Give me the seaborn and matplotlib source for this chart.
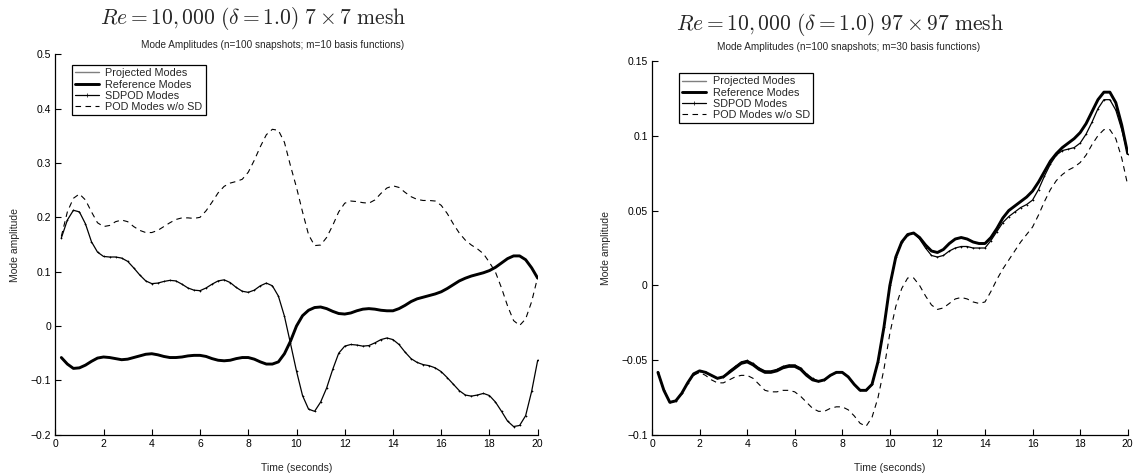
import numpy as np
import pandas as pd
import matplotlib
matplotlib.use("Agg")
import matplotlib.pyplot as plt
import seaborn as sns

# ---------------- data ----------------
time_s = [0.25, 0.5, 0.75, 1.0, 1.25, 1.5, 1.75, 2.0, 2.25, 2.5, 2.75, 3.0, 3.25, 3.5, 3.75, 4.0,
          4.25, 4.5, 4.75, 5.0, 5.25, 5.5, 5.75, 6.0, 6.25, 6.5, 6.75, 7.0, 7.25, 7.5, 7.75, 8.0,
          8.25, 8.5, 8.75, 9.0, 9.25, 9.5, 9.75, 10.0, 10.25, 10.5, 10.75, 11.0, 11.25, 11.5, 11.75, 12.0,
          12.25, 12.5, 12.75, 13.0, 13.25, 13.5, 13.75, 14.0, 14.25, 14.5, 14.75, 15.0, 15.25, 15.5, 15.75, 16.0,
          16.25, 16.5, 16.75, 17.0, 17.25, 17.5, 17.75, 18.0, 18.25, 18.5, 18.75, 19.0, 19.25, 19.5, 19.75, 20.0]

# Reference modes (same reference simulation in both panels)
reference_modes = [-0.058, -0.070, -0.078, -0.077, -0.072, -0.065, -0.059, -0.057, -0.058, -0.060, -0.062, -0.061, -0.058, -0.055, -0.052, -0.051,
                   -0.053, -0.056, -0.058, -0.058, -0.057, -0.055, -0.054, -0.054, -0.056, -0.060, -0.063, -0.064, -0.063, -0.060, -0.058, -0.058,
                   -0.061, -0.066, -0.070, -0.070, -0.066, -0.051, -0.028, 0.000, 0.019, 0.029, 0.034, 0.035, 0.032, 0.027, 0.023, 0.022,
                   0.024, 0.028, 0.031, 0.032, 0.031, 0.029, 0.028, 0.028, 0.032, 0.038, 0.045, 0.050, 0.053, 0.056, 0.059, 0.063,
                   0.069, 0.076, 0.083, 0.088, 0.092, 0.095, 0.098, 0.102, 0.108, 0.116, 0.124, 0.129, 0.129, 0.122, 0.107, 0.088]

# ---- 7x7 mesh (m=10) ----
sdpod_7 = [0.162, 0.195, 0.213, 0.210, 0.188, 0.155, 0.136, 0.128, 0.127, 0.127, 0.125, 0.119, 0.107, 0.094, 0.083, 0.078,
           0.079, 0.082, 0.084, 0.083, 0.077, 0.070, 0.066, 0.065, 0.070, 0.077, 0.083, 0.085, 0.080, 0.071, 0.064, 0.062,
           0.066, 0.074, 0.079, 0.074, 0.055, 0.018, -0.032, -0.083, -0.128, -0.153, -0.157, -0.140, -0.114, -0.080, -0.050, -0.037,
           -0.034, -0.035, -0.037, -0.036, -0.031, -0.025, -0.022, -0.025, -0.034, -0.048, -0.060, -0.067, -0.071, -0.073, -0.077, -0.084,
           -0.095, -0.107, -0.119, -0.127, -0.129, -0.127, -0.124, -0.128, -0.140, -0.157, -0.175, -0.185, -0.183, -0.165, -0.120, -0.063]
projected_7 = list(reference_modes)
pod_nosd_7 = [0.165, 0.210, 0.235, 0.243, 0.232, 0.210, 0.190, 0.183, 0.185, 0.192, 0.195, 0.192, 0.183, 0.176, 0.172, 0.172,
              0.176, 0.183, 0.190, 0.196, 0.199, 0.199, 0.198, 0.200, 0.212, 0.228, 0.245, 0.257, 0.263, 0.266, 0.270, 0.283,
              0.305, 0.330, 0.352, 0.362, 0.360, 0.338, 0.295, 0.255, 0.210, 0.168, 0.148, 0.149, 0.163, 0.185, 0.210, 0.226,
              0.230, 0.229, 0.227, 0.226, 0.232, 0.244, 0.254, 0.258, 0.255, 0.246, 0.238, 0.233, 0.231, 0.231, 0.230, 0.222,
              0.207, 0.188, 0.171, 0.158, 0.149, 0.142, 0.133, 0.117, 0.099, 0.070, 0.037, 0.010, 0.001, 0.013, 0.045, 0.090]

# ---- 97x97 mesh (m=30) ----
sdpod_97 = [-0.058, -0.070, -0.078, -0.077, -0.072, -0.065, -0.059, -0.057, -0.058, -0.060, -0.062, -0.061, -0.057, -0.054, -0.051, -0.050,
            -0.052, -0.055, -0.057, -0.057, -0.056, -0.054, -0.053, -0.053, -0.055, -0.059, -0.062, -0.064, -0.063, -0.060, -0.058, -0.058,
            -0.061, -0.066, -0.070, -0.070, -0.066, -0.051, -0.028, 0.000, 0.019, 0.029, 0.034, 0.035, 0.031, 0.025, 0.020, 0.019,
            0.020, 0.023, 0.025, 0.026, 0.026, 0.025, 0.025, 0.025, 0.030, 0.036, 0.042, 0.046, 0.049, 0.052, 0.054, 0.057,
            0.064, 0.073, 0.081, 0.087, 0.090, 0.091, 0.092, 0.095, 0.101, 0.109, 0.118, 0.124, 0.124, 0.117, 0.104, 0.088]
projected_97 = list(reference_modes)
pod_nosd_97 = [-0.058, -0.070, -0.078, -0.077, -0.072, -0.065, -0.060, -0.058, -0.060, -0.063, -0.065, -0.065, -0.063, -0.061, -0.060, -0.060,
               -0.062, -0.066, -0.070, -0.071, -0.071, -0.070, -0.070, -0.071, -0.074, -0.078, -0.082, -0.084, -0.084, -0.082, -0.081, -0.081,
               -0.083, -0.087, -0.092, -0.094, -0.088, -0.075, -0.056, -0.032, -0.014, -0.002, 0.005, 0.005, 0.000, -0.007, -0.013, -0.016,
               -0.015, -0.012, -0.009, -0.008, -0.009, -0.011, -0.012, -0.011, -0.004, 0.004, 0.011, 0.017, 0.023, 0.029, 0.034, 0.039,
               0.047, 0.056, 0.064, 0.070, 0.074, 0.077, 0.079, 0.082, 0.087, 0.094, 0.100, 0.104, 0.104, 0.098, 0.085, 0.067]

series_labels = ["Projected Modes", "Reference Modes", "SDPOD Modes", "POD Modes w/o SD"]
titles = [r"$Re = 10,000\ (\delta = 1.0)\ 7\times 7\ \mathrm{mesh}$",
          r"$Re = 10,000\ (\delta = 1.0)\ 97\times 97\ \mathrm{mesh}$"]
subtitles = ["Mode Amplitudes (n=100 snapshots; m=10 basis functions)",
             "Mode Amplitudes (n=100 snapshots; m=30 basis functions)"]
x_ticks = [0, 2, 4, 6, 8, 10, 12, 14, 16, 18, 20]
y_ticks_left = [-0.2, -0.1, 0, 0.1, 0.2, 0.3, 0.4, 0.5]
y_ticklabels_left = ["\u22120.2", "\u22120.1", "0", "0.1", "0.2", "0.3", "0.4", "0.5"]
y_ticks_right = [-0.1, -0.05, 0, 0.05, 0.1, 0.15]
y_ticklabels_right = ["\u22120.1", "\u22120.05", "0", "0.05", "0.1", "0.15"]

# ---------------- style ----------------
sns.set_style("ticks")
plt.rcParams["font.family"] = ["Liberation Sans", "DejaVu Sans"]
plt.rcParams["mathtext.fontset"] = "cm"

fig = plt.figure(figsize=(11.36, 4.76), dpi=100)
ax1 = fig.add_axes([55.3 / 1136, 1 - 434.7 / 476, 482.4 / 1136, 380.4 / 476])
ax2 = fig.add_axes([652 / 1136, 1 - 435.3 / 476, 475.7 / 1136, 374.6 / 476])

styles = {
    "Projected Modes": dict(color="#7f7f7f", linewidth=1.0, linestyle="-"),
    "Reference Modes": dict(color="black", linewidth=2.1, linestyle="-"),
    "SDPOD Modes": dict(color="black", linewidth=0.9, linestyle="-", marker="+", markersize=1.6,
                        markeredgewidth=0.5, markeredgecolor="black", markerfacecolor="black"),
    "POD Modes w/o SD": dict(color="black", linewidth=0.8, linestyle=(0, (5, 4))),
}

panels = [
    (ax1, [projected_7, reference_modes, sdpod_7, pod_nosd_7]),
    (ax2, [projected_97, reference_modes, sdpod_97, pod_nosd_97]),
]

for ax, vals in panels:
    df = pd.DataFrame({"Time": time_s})
    for lab, v in zip(series_labels, vals):
        df[lab] = v
    long = df.melt(id_vars="Time", var_name="Series", value_name="Amplitude")
    for lab in series_labels:
        sub = long[long["Series"] == lab]
        sns.lineplot(data=sub, x="Time", y="Amplitude", ax=ax, label=lab, **styles[lab])

for ax in (ax1, ax2):
    sns.despine(ax=ax)
    ax.set_xlim(0, 20)
    ax.set_xticks(x_ticks)
    ax.set_xticklabels([str(t) for t in x_ticks])
    ax.tick_params(direction="in", length=4, width=0.8, labelsize=7.5, pad=3, colors="black")
    for s in ("left", "bottom"):
        ax.spines[s].set_linewidth(0.9)
        ax.spines[s].set_color("black")
    ax.set_xlabel("Time (seconds)", fontsize=7.5, labelpad=10)
    ax.set_ylabel("Mode amplitude", fontsize=7.5, labelpad=8)

ax1.set_ylim(-0.2, 0.5)
ax1.set_yticks(y_ticks_left)
ax1.set_yticklabels(y_ticklabels_left)
ax2.set_ylim(-0.1, 0.15)
ax2.set_yticks(y_ticks_right)
ax2.set_yticklabels(y_ticklabels_right)

for ax, anchor in ((ax1, (0.034, 0.972)), (ax2, (0.057, 0.967))):
    leg = ax.legend(loc="upper left", bbox_to_anchor=anchor, fontsize=7.8, frameon=True, fancybox=False,
                    edgecolor="black", framealpha=1, borderpad=0.3, labelspacing=0.12,
                    handlelength=2.2, handletextpad=0.6, borderaxespad=0)
    leg.get_frame().set_linewidth(0.9)
    for h in leg.get_lines():
        if h.get_marker() == "+":
            h.set_markersize(3)

fig.text(253 / 1136, 1 - 18 / 476, titles[0], ha="center", va="center", fontsize=15.5)
fig.text(273 / 1136, 1 - 45 / 476, subtitles[0], ha="center", va="center", fontsize=7.2)
fig.text(840 / 1136, 1 - 24 / 476, titles[1], ha="center", va="center", fontsize=15.5)
fig.text(849 / 1136, 1 - 47 / 476, subtitles[1], ha="center", va="center", fontsize=7.2)

fig.savefig("out.png", dpi=100)
